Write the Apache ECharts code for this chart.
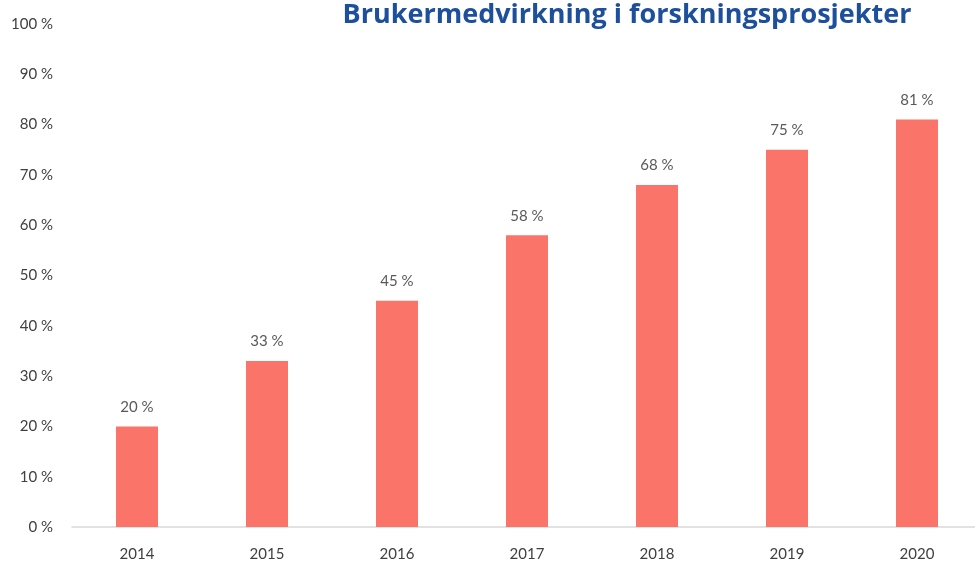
<!DOCTYPE html>
<html>
<head>
<meta charset="utf-8">
<script src="https://cdn.jsdelivr.net/npm/echarts@6/dist/echarts.min.js"></script>
<style>
  html, body { margin: 0; padding: 0; background: #ffffff; }
  #chart { width: 975px; height: 561px; }
</style>
</head>
<body>
<div id="chart"></div>
<script>
// Share of research projects with user involvement, per year
const years = ['2014', '2015', '2016', '2017', '2018', '2019', '2020'];
const shares = [20, 33, 45, 58, 68, 75, 81];
const titleText = 'Brukermedvirkning i forskningsprosjekter';

const chart = echarts.init(document.getElementById('chart'), null, { renderer: 'canvas' });

chart.setOption({
  animation: false,
  title: {
    text: titleText,
    left: 622,
    textAlign: 'center',
    top: -3,
    textStyle: {
      fontFamily: 'Open Sans',
      fontWeight: 'bold',
      fontSize: 27,
      color: '#1d4f9c'
    }
  },
  grid: {
    left: 72,
    top: 24,
    right: -7,
    bottom: 34,
    containLabel: false,
    outerBoundsMode: 'none'
  },
  xAxis: {
    type: 'category',
    data: years,
    axisLine: { lineStyle: { color: '#d9d9d9', width: 1.5 } },
    axisTick: { show: false },
    axisLabel: {
      margin: 20,
      fontFamily: 'Lato',
      fontSize: 15,
      color: '#404040'
    }
  },
  yAxis: {
    type: 'value',
    min: 0,
    max: 100,
    interval: 10,
    splitLine: { show: false },
    axisLine: { show: false },
    axisTick: { show: false },
    axisLabel: {
      margin: 19,
      formatter: '{value} %',
      fontFamily: 'Lato',
      fontSize: 15,
      color: '#404040'
    }
  },
  series: [{
    type: 'bar',
    data: shares,
    barWidth: 42,
    itemStyle: { color: '#fa746a' },
    label: {
      show: true,
      position: 'top',
      distance: 12,
      formatter: '{c} %',
      fontFamily: 'Lato',
      fontSize: 15,
      color: '#595959'
    }
  }]
});
</script>
</body>
</html>
